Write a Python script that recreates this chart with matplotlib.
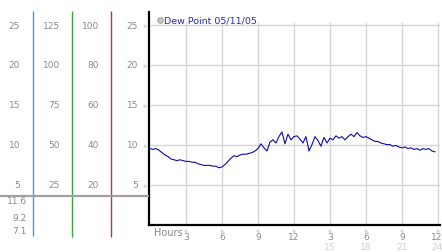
import matplotlib.pyplot as plt

# dew point readings every 15 minutes, 00:00 to 23:45
hours = [i * 0.25 for i in range(96)]
dew_point = [
    9.5, 9.4, 9.5, 9.3,
    9.0, 8.7, 8.5, 8.2,
    8.1, 8.0, 8.1, 8.0,
    7.9, 7.9, 7.8, 7.8,
    7.6, 7.5, 7.4, 7.4,
    7.4, 7.3, 7.3, 7.1,
    7.2, 7.5, 7.9, 8.3,
    8.6, 8.5, 8.7, 8.8,
    8.8, 8.9, 9.0, 9.2,
    9.5, 10.1, 9.6, 9.2,
    10.3, 10.6, 10.2, 11.0,
    11.6, 10.1, 11.3, 10.6,
    11.0, 11.1, 10.7, 10.2,
    11.0, 9.2, 10.0, 11.0,
    10.5, 9.8, 10.9, 10.2,
    10.8, 10.6, 11.1, 10.8,
    11.0, 10.6, 11.0, 11.3,
    11.0, 11.5, 11.1, 10.9,
    11.0, 10.8, 10.6, 10.4,
    10.4, 10.2, 10.1, 10.0,
    10.0, 9.8, 9.9, 9.7,
    9.6, 9.7, 9.5, 9.6,
    9.4, 9.5, 9.3, 9.5,
    9.4, 9.5, 9.2, 9.1,
]

hour_ticks = [3, 6, 9, 12, 15, 18, 21, 24]
hour_labels = ['3', '6', '9', '12', '3', '6', '9', '12']
hour_labels_24 = ['', '', '', '', '15', '18', '21', '24']

y_ticks = [5, 10, 15, 20, 25]
col_celsius = ['5', '10', '15', '20', '25']
col_percent = ['25', '50', '75', '100', '125']
col_fahr = ['20', '40', '60', '80', '100']
stats = ['11.6', '9.2', '7.1']  # max, avg, min

W, H = 442, 253
fig = plt.figure(figsize=(W / 100, H / 100), dpi=100)
plt.rcParams['font.family'] = 'DejaVu Sans'
gray = '#8a8a8a'

# main plot, 12 px per hour, 8 px per degree
ax = fig.add_axes([149 / W, 27.5 / H, 291 / W, 212.5 / H])
ax.set_xlim(-0.08, 24.17)
ax.set_ylim(0, 26.6)
ax.hlines(y_ticks, 0, 24.17, color='#d6d6d6', lw=1)
ax.vlines(hour_ticks, 0, 25.35, color='#d6d6d6', lw=1)
ax.plot(hours, dew_point, color='#0c0ca8', lw=0.8)
for s in ['top', 'right']:
    ax.spines[s].set_visible(False)
ax.spines['left'].set_linewidth(1.6)
ax.spines['bottom'].set_linewidth(1.6)
ax.set_xticks([])
ax.set_yticks([])

# legend entry
ax.plot([0.85], [25.65], 'o', ms=4, mfc='#c8c8c8', mec='#909090', mew=0.6, clip_on=False)
ax.text(1.2, 25.65, 'Dew Point 05/11/05', color='#2a2ab0', fontsize=6.8, va='center', ha='left')

# x labels (last column nudged left so it stays inside the picture)
for x, lab, lab2 in zip(hour_ticks, hour_labels, hour_labels_24):
    xt = x - 0.12 if x == 24 else x
    ax.text(x, -0.7, '\u203b', color='#b0b0b0', fontsize=3.5, ha='center', va='center', clip_on=False)
    ax.text(xt, -1.5, lab, color=gray, fontsize=6.5, ha='center', va='center', clip_on=False)
    if lab2:
        ax.text(xt, -2.75, lab2, color='#d0d0d0', fontsize=6.5, ha='center', va='center', clip_on=False)
ax.text(0.3, -0.95, 'Hours', color=gray, fontsize=7, ha='left', va='center', clip_on=False)

# left scale panel, same vertical scale as main plot
lax = fig.add_axes([0, 0, 149 / W, 1])
lax.set_xlim(0, 149)
lax.set_ylim(-27 / 8, 226 / 8)
lax.axis('off')
for y, a, b, c in zip(y_ticks, col_celsius, col_percent, col_fahr):
    lax.text(20, y, a, color=gray, fontsize=6.5, ha='right', va='center')
    lax.text(60, y, b, color=gray, fontsize=6.5, ha='right', va='center')
    lax.text(99, y, c, color=gray, fontsize=6.5, ha='right', va='center')
    lax.text(138, y, a, color=gray, fontsize=6.5, ha='right', va='center')
    lax.text(145, y, '\u203b', color='#b0b0b0', fontsize=3.5, ha='center', va='center')
lax.vlines(33, -11 / 8, 214 / 8, color='#3aa0d8', lw=1)
lax.vlines(72, -12 / 8, 214 / 8, color='#38a838', lw=1)
lax.vlines(111, -12 / 8, 214 / 8, color='#b03a3a', lw=1)
lax.hlines(29 / 8, 0, 149, color='#a0a0a0', lw=1.6)
for y, s in zip([24 / 8, 7 / 8, -6 / 8], stats):
    lax.text(27, y, s, color=gray, fontsize=6.5, ha='right', va='center')

fig.savefig('out.png', dpi=100)
